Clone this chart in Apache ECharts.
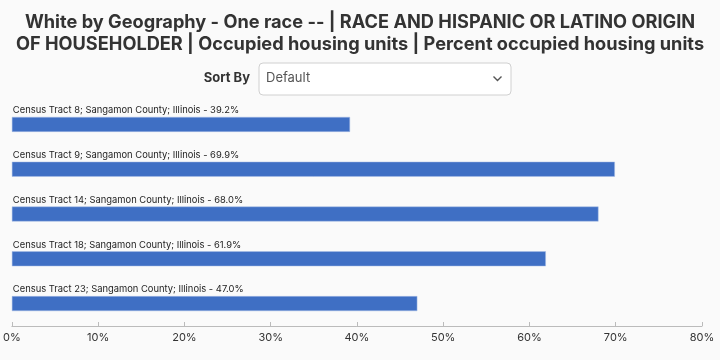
<!DOCTYPE html>
<html>
<head>
<meta charset="utf-8">
<script src="https://cdn.jsdelivr.net/npm/echarts@6/dist/echarts.min.js"></script>
<style>
html,body{margin:0;padding:0;background:#fafafa;}
#chart{width:720px;height:360px;}
</style>
</head>
<body>
<div id="chart"></div>
<script>
const titleLines = [
  "White by Geography - One race -- | RACE AND HISPANIC OR LATINO ORIGIN",
  "OF HOUSEHOLDER | Occupied housing units | Percent occupied housing units"
];
const categories = [
  "Census Tract 8; Sangamon County; Illinois",
  "Census Tract 9; Sangamon County; Illinois",
  "Census Tract 14; Sangamon County; Illinois",
  "Census Tract 18; Sangamon County; Illinois",
  "Census Tract 23; Sangamon County; Illinois"
];
const values = [39.2, 69.9, 68.0, 61.9, 47.0];
const xTicks = { min: 0, max: 80, interval: 10 };
const sortLabel = "Sort By";
const sortValue = "Default";

const chart = echarts.init(document.getElementById('chart'), null, {renderer: 'canvas'});
chart.setOption({
  backgroundColor: '#fafafa',
  animation: false,
  title: {
    text: titleLines.join('\n'),
    left: 'center',
    top: 7,
    textStyle: {
      fontFamily: 'Inter',
      fontWeight: 'bold',
      fontSize: 18.2,
      lineHeight: 22,
      color: '#333'
    }
  },
  graphic: [
    {
      type: 'text',
      right: 470,
      top: 72,
      style: { text: sortLabel, font: 'bold 13px Inter', fill: '#333' }
    },
    {
      type: 'rect',
      left: 258.5,
      top: 62.5,
      shape: { width: 252, height: 32, r: 4 },
      style: { fill: '#fff', stroke: '#d0d0d0', lineWidth: 1 }
    },
    {
      type: 'text',
      left: 266,
      top: 72,
      style: { text: sortValue, font: '13px Inter', fill: '#555' }
    },
    {
      type: 'polyline',
      shape: { points: [[493.5, 76.5], [497.5, 80.5], [501.5, 76.5]] },
      style: { stroke: '#555', lineWidth: 1.4, fill: null }
    }
  ],
  grid: { left: 11, right: 18, top: 102, bottom: 34, containLabel: false },
  xAxis: {
    type: 'value',
    min: xTicks.min,
    max: xTicks.max,
    interval: xTicks.interval,
    splitLine: { show: false },
    axisLine: { show: true, lineStyle: { color: '#bbb', width: 1 } },
    axisTick: { show: true, inside: true, length: 4, lineStyle: { color: '#bbb' } },
    axisLabel: {
      formatter: '{value}%',
      color: '#333',
      fontFamily: 'Inter',
      fontSize: 11,
      margin: 6
    }
  },
  yAxis: {
    type: 'category',
    data: categories,
    inverse: true,
    axisLine: { show: false },
    axisTick: { show: false },
    axisLabel: { show: false },
    splitLine: { show: false }
  },
  series: [{
    type: 'bar',
    data: values,
    barWidth: 15,
    itemStyle: { color: '#3f6fc4', borderColor: '#a9bfe6', borderWidth: 0.5 },
    label: {
      show: true,
      position: [1, -2],
      verticalAlign: 'bottom',
      align: 'left',
      formatter: p => p.name + ' - ' + p.value.toFixed(1) + '%',
      color: '#222',
      fontFamily: 'Inter',
      fontSize: 9.4
    }
  }]
});
</script>
</body>
</html>
